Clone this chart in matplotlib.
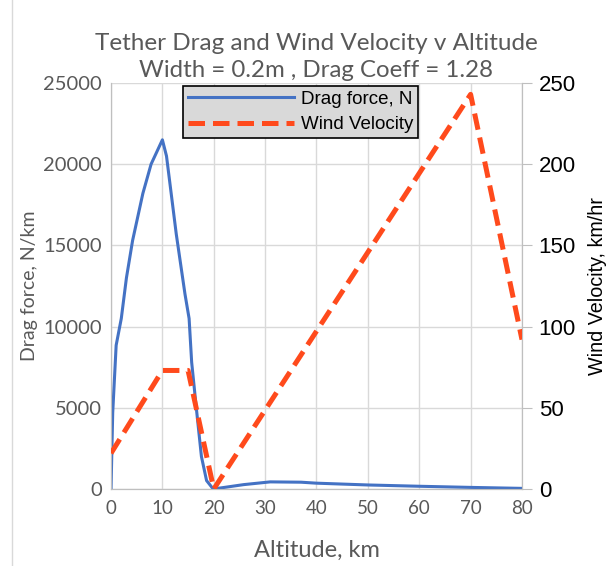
import numpy as np
import matplotlib.pyplot as plt
from matplotlib.patches import Rectangle

# DATA
alt_drag = [0, 0.33, 1.0, 2.0, 3.0, 4.2, 6.2, 7.8, 10, 10.8, 12.7, 14.4, 15.2, 15.7, 16.7,
            17.6, 18.6, 19.9, 21.2, 25.8, 31, 37, 40, 50, 60, 70, 80]
drag = [0, 4700, 8850, 10500, 13000, 15300, 18200, 20000, 21500, 20500, 15700, 12000, 10500,
        7800, 4700, 2000, 520, 0, 60, 270, 440, 420, 360, 250, 170, 100, 40]
alt_wind = [0, 10, 15, 20, 70, 80]
wind = [22, 73, 73, 0, 243, 92]

GRAY = '#595959'
fig = plt.figure(figsize=(6.11, 5.66), dpi=100)
ax = fig.add_axes([0.1817, 0.136, 0.6726, 0.7174])
ax2 = ax.twinx()

ax.plot(alt_drag, drag, color='#4472C4', lw=2.2, label='Drag force, N', zorder=3)
ax2.plot(alt_wind, wind, color='#FF4A1C', lw=3.6, ls=(0, (3.3, 1.6)), label='Wind Velocity', zorder=3)

ax.set_xlim(0, 80)
ax.set_ylim(0, 25000)
ax2.set_ylim(0, 250)
ax.set_xticks(np.arange(0, 81, 10))
ax.set_yticks(np.arange(0, 25001, 5000))
ax2.set_yticks(np.arange(0, 251, 50))
ax.grid(True, color='#d9d9d9', lw=1)
ax.set_axisbelow(True)

for a in (ax, ax2):
    for s in a.spines.values():
        s.set_color('#bfbfbf')
    a.spines['top'].set_visible(False)
ax.tick_params(axis='x', length=0, pad=8, labelsize=13.5, labelcolor=GRAY, labelfontfamily='Lato')
ax.tick_params(axis='y', length=0, pad=6.5, labelsize=14.5, labelcolor=GRAY, labelfontfamily='Lato')
ax2.tick_params(axis='y', length=7, pad=5, color='#bfbfbf', labelsize=16, labelcolor='black',
                labelfontfamily='Liberation Sans')

ax.set_xlabel('Altitude, km', fontsize=17, color=GRAY, family='Lato', labelpad=16)
ax.set_ylabel('Drag force, N/km', fontsize=14, color=GRAY, family='Lato')
ax.yaxis.set_label_coords(-0.178, 0.5)
ax2.set_ylabel('Wind Velocity, km/hr', fontsize=14.2, color='black', family='Liberation Sans', labelpad=9)

fig.text(0.518, 0.924, 'Tether Drag and Wind Velocity v Altitude', ha='center', va='center',
         fontsize=17.5, color=GRAY, family='Lato')
fig.text(0.518, 0.876, 'Width = 0.2m , Drag Coeff = 1.28', ha='center', va='center',
         fontsize=17.3, color=GRAY, family='Lato')

h1, l1 = ax.get_legend_handles_labels()
h2, l2 = ax2.get_legend_handles_labels()
leg = ax2.legend(h1 + h2, l1 + l2, loc='upper left', bbox_to_anchor=(0.175, 0.993), fancybox=False,
                 framealpha=1, facecolor='#d9d9d9', edgecolor='black', handlelength=5.7,
                 handletextpad=0.35, prop={'family': 'Liberation Sans', 'size': 13.5},
                 borderpad=0.25, labelspacing=0.45, borderaxespad=0)
leg.get_frame().set_linewidth(1.2)

fig.patches.append(Rectangle((0.02, -0.1), 1.2, 1.2, transform=fig.transFigure, fill=False,
                             edgecolor='#d9d9d9', lw=1))

plt.savefig('out.png', dpi=100)
